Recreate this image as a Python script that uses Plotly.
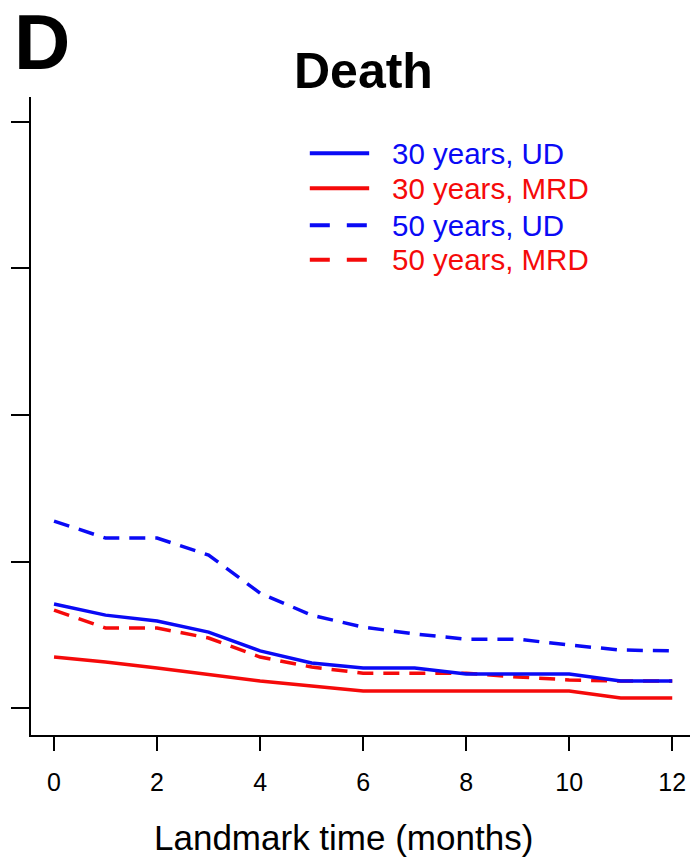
import plotly.graph_objects as go

# landmark time (months)
months = [0, 1, 2, 3, 4, 5, 6, 7, 8, 9, 10, 11, 12]

# cumulative incidence of death
ud_30 = [0.0355, 0.0317, 0.0297, 0.0259, 0.0195, 0.0154, 0.0137, 0.0137,
         0.0116, 0.0116, 0.0116, 0.0092, 0.0092]
mrd_30 = [0.0174, 0.0157, 0.0137, 0.0113, 0.0092, 0.0075, 0.0058, 0.0058,
          0.0058, 0.0058, 0.0058, 0.0034, 0.0034]
ud_50 = [0.0638, 0.0580, 0.0580, 0.0522, 0.0392, 0.0317, 0.0276, 0.0253,
         0.0235, 0.0235, 0.0215, 0.0198, 0.0195]
mrd_50 = [0.0334, 0.0273, 0.0273, 0.0239, 0.0174, 0.0140, 0.0119, 0.0119,
          0.0119, 0.0106, 0.0096, 0.0092, 0.0092]

x_ticks = [0, 2, 4, 6, 8, 10, 12]
y_ticks = [0, 0.05, 0.10, 0.15, 0.20]

BLUE = "#0a0af5"
RED = "#f50a0a"
FONT = "Liberation Sans, Arial, sans-serif"

series = [
    ("30 years, UD", ud_30, BLUE, "solid"),
    ("30 years, MRD", mrd_30, RED, "solid"),
    ("50 years, UD", ud_50, BLUE, "dash"),
    ("50 years, MRD", mrd_50, RED, "dash"),
]

fig = go.Figure()
# dashed first so the solid lines sit on top
for name, vals, col, dash in [series[3], series[2], series[1], series[0]]:
    fig.add_trace(go.Scatter(
        x=months, y=vals, name=name, mode="lines",
        line=dict(color=col, width=3.5,
                  dash="16px,10px" if dash == "dash" else "solid"),
        showlegend=False))

# hand-built legend (line keys + coloured labels)
leg_rows = [0.912, 0.857, 0.799, 0.745]
for (name, vals, col, dash), yy in zip(series, leg_rows):
    fig.add_shape(type="line", xref="paper", yref="paper",
                  x0=0.418, x1=0.507, y0=yy, y1=yy,
                  line=dict(color=col, width=4,
                            dash="20px,17px" if dash == "dash" else "solid"))
    fig.add_annotation(text=name, xref="paper", yref="paper", x=0.538, y=yy,
                       xanchor="left", yanchor="middle", showarrow=False,
                       font=dict(family=FONT, size=29.5, color=col))

fig.add_annotation(text="<b>Death</b>", xref="paper", yref="paper",
                   x=0.498, y=1.04, xanchor="center", yanchor="middle",
                   showarrow=False, font=dict(family=FONT, size=50, color="black"))
fig.add_annotation(text="<b>D</b>", xref="paper", yref="paper",
                   x=-0.028, y=1.086, xanchor="left", yanchor="middle",
                   showarrow=False, font=dict(family=FONT, size=78, color="black"))
fig.add_annotation(text="Landmark time (months)", xref="paper", yref="paper",
                   x=0.469, y=-0.16, xanchor="center", yanchor="middle",
                   showarrow=False, font=dict(family=FONT, size=35, color="black"))

fig.update_xaxes(range=[-0.447, 12.5], tickvals=x_ticks, ticks="outside",
                 ticklen=14, tickwidth=2, tickcolor="black",
                 showline=True, linecolor="black", linewidth=2,
                 showgrid=False, zeroline=False, ticklabelstandoff=10,
                 tickfont=dict(family=FONT, size=25, color="black"))
fig.update_yaxes(range=[-0.0092, 0.2085], tickvals=y_ticks, ticks="outside",
                 ticklen=18, tickwidth=2, tickcolor="black",
                 showline=True, linecolor="black", linewidth=2,
                 showgrid=False, zeroline=False, showticklabels=False)

# page body adds an 8px offset, so the figure is 8px smaller each way
fig.update_layout(width=690, height=850, plot_bgcolor="white",
                  paper_bgcolor="white",
                  margin=dict(l=23, r=0, t=89, b=123))

fig.write_html("out.html")
